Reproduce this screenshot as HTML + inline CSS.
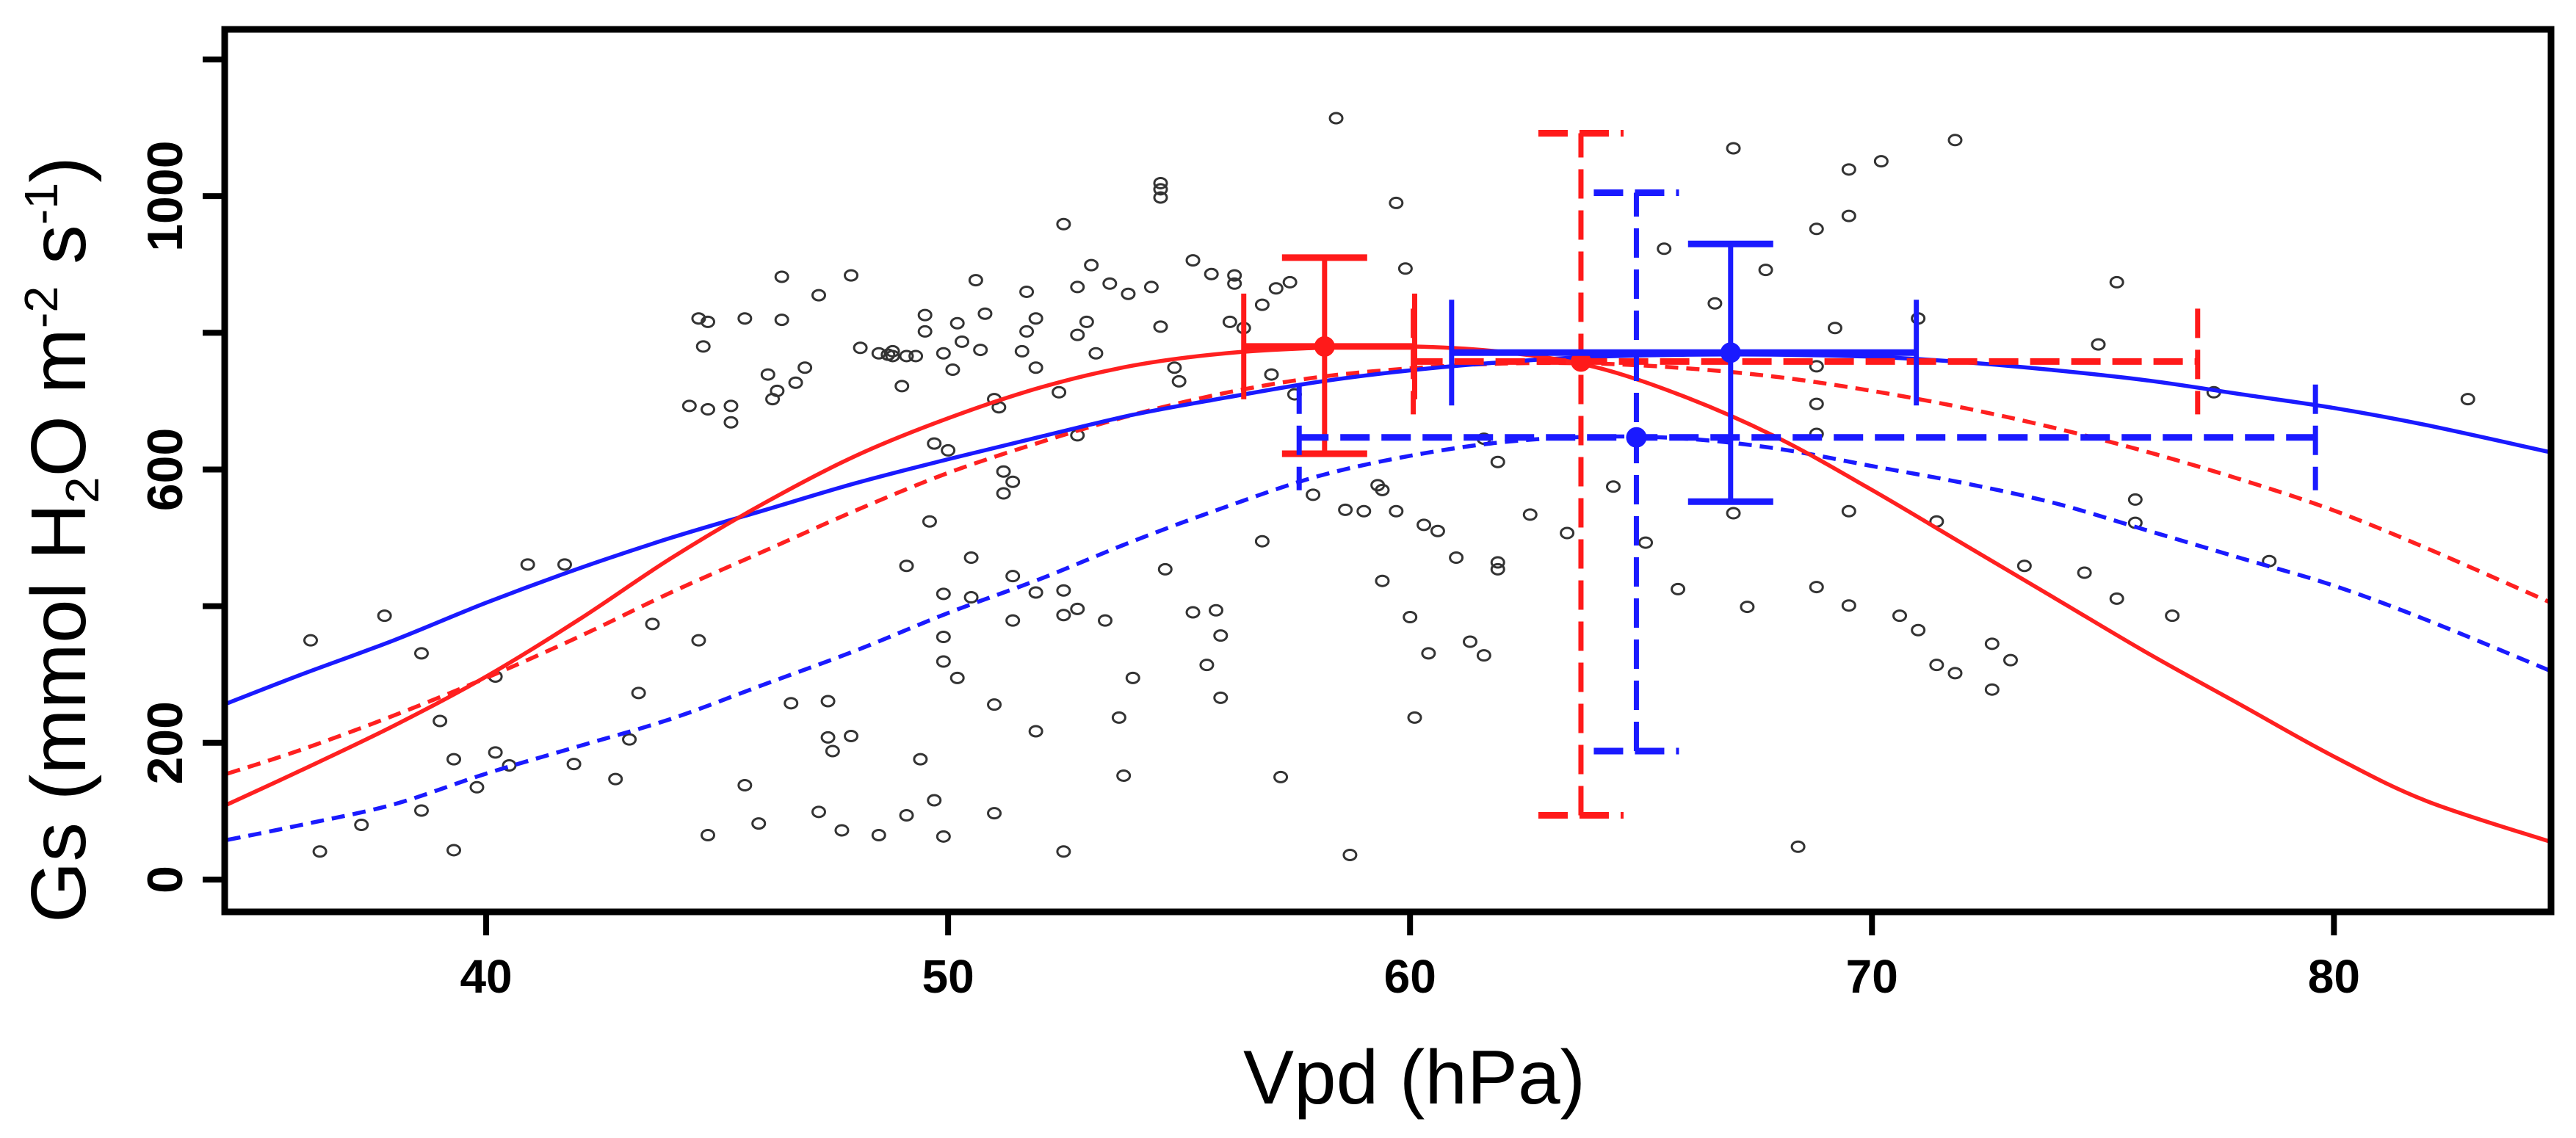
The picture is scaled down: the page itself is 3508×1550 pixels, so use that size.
<!DOCTYPE html>
<html><head><meta charset="utf-8"><style>
html,body{margin:0;padding:0;background:#fff;}
svg{display:block;}
</style></head><body>
<svg id="chart" width="3508" height="1550" viewBox="0 0 3508 1550" xmlns="http://www.w3.org/2000/svg">
<defs><clipPath id="plotclip"><rect x="306" y="40" width="3168" height="1202"/></clipPath></defs>
<g id="marks" clip-path="url(#plotclip)"></g>
<g id="axes"></g>
<text x="1926" y="1503" text-anchor="middle" font-family="Liberation Sans, sans-serif" font-size="104" textLength="466" lengthAdjust="spacingAndGlyphs">Vpd (hPa)</text>
<text transform="translate(116,735) rotate(-90)" text-anchor="middle" font-family="Liberation Sans, sans-serif" font-size="106" textLength="1044" lengthAdjust="spacingAndGlyphs">Gs (mmol H<tspan font-size="64" dy="18">2</tspan><tspan dy="-18">O m</tspan><tspan font-size="64" dy="-38">-2</tspan><tspan dy="38"> s</tspan><tspan font-size="64" dy="-38">-1</tspan><tspan dy="38">)</tspan></text>
</svg>
<script>
const xTicks = [40, 50, 60, 70, 80];
const yTicks = [0, 200, 400, 600, 800, 1000, 1200];
const yLabels = [0, 200, 600, 1000];
const curveX = [34.4,36,38,40,42,44,46,48,50,52,54,56,58,60,62,64,66,68,70,72,74,76,78,80,82,84.7];
const redSolid = [110,160,225,297,380,470,550,620,675,720,752,770,778,780,772,750,705,645,570,490,410,330,255,180,115,55];
const blueSolid = [258,300,350,405,455,500,540,580,615,648,680,705,728,745,757,765,768,768,765,757,745,730,710,690,665,625];
const redDashed = [155,190,240,295,355,420,480,540,595,640,680,712,735,748,755,755,748,735,715,690,660,625,585,540,485,405];
const blueDashed = [58,80,110,155,195,235,285,335,390,440,495,545,590,620,640,648,645,630,605,580,550,510,470,430,380,305];
// error bars: [meanX, meanY, xLow, xHigh, yLow, yHigh]
const errRedSolid = [58.15, 780, 56.4, 60.1, 623, 910];
const errRedDashed = [63.7, 758, 60.07, 77.05, 94, 1092];
const errBlueSolid = [66.94, 771, 60.9, 70.96, 553, 930];
const errBlueDashed = [64.9, 647, 57.6, 79.6, 188, 1005];
const ptX = [36.2,36.4,37.3,37.8,38.6,38.6,39.0,39.3,39.3,39.8,40.2,40.2,40.5,40.9,41.7,41.9,42.8,43.1,43.3,43.6,44.4,44.6,44.7,44.8,44.8,44.8,44.6,45.3,45.3,45.6,45.6,45.9,46.1,46.2,46.3,46.4,46.4,46.6,46.7,46.9,47.2,47.2,47.4,47.4,47.5,47.7,47.9,47.9,48.1,48.5,48.5,48.7,48.8,48.8,49.0,49.1,49.1,49.1,49.3,49.4,49.5,49.5,49.6,49.7,49.7,49.9,49.9,49.9,49.9,49.9,50.0,50.1,50.2,50.2,50.3,50.5,50.5,50.6,50.7,50.8,51.0,51.0,51.0,51.1,51.2,51.2,51.4,51.4,51.4,51.6,51.7,51.7,51.9,51.9,51.9,51.9,52.4,52.5,52.5,52.5,52.5,52.8,52.8,52.8,52.8,53.0,53.1,53.2,53.4,53.5,53.7,53.8,53.9,54.0,54.4,54.6,54.6,54.6,54.6,54.7,54.9,55.0,55.3,55.3,55.6,55.7,55.8,55.9,55.9,56.1,56.2,56.2,56.4,56.8,56.8,57.0,57.1,57.2,57.4,57.5,57.9,58.4,58.6,58.7,59.0,59.3,59.4,59.4,59.7,59.7,59.9,60.0,60.1,60.3,60.4,60.6,61.0,61.3,61.6,61.6,61.9,61.9,61.9,62.6,63.4,64.4,65.1,65.5,65.8,66.6,67.0,67.0,67.3,67.7,68.4,68.8,68.8,68.8,68.8,68.8,69.2,69.5,69.5,69.5,69.5,70.2,70.6,71.0,71.0,71.4,71.4,71.8,71.8,72.6,72.6,73.0,73.3,74.6,74.9,75.3,75.3,75.7,75.7,76.5,77.4,78.6,82.9];
const ptY = [350,41,80,386,331,101,232,176,43,135,297,186,167,461,461,169,147,205,273,374,693,821,780,816,65,688,350,693,669,821,138,82,739,703,715,882,819,258,727,749,855,99,261,208,188,72,884,210,778,770,65,768,766,773,722,766,459,94,766,176,802,826,524,638,116,770,418,319,355,63,628,746,295,814,787,471,413,877,775,828,703,256,97,691,597,565,582,444,379,773,860,802,420,821,749,217,713,959,387,423,41,867,797,650,396,816,899,770,379,872,237,152,857,295,867,809,1019,1010,998,454,749,729,906,391,314,886,394,357,266,816,872,884,807,841,495,739,865,150,874,710,563,1114,541,36,539,577,570,437,539,990,894,384,237,519,331,510,471,348,328,645,611,464,454,534,507,575,493,923,425,843,1070,536,399,892,48,751,696,652,428,952,807,1039,971,539,401,1051,386,365,821,314,524,1082,302,345,278,321,459,449,783,874,411,556,522,386,713,466,703];

const NS = 'http://www.w3.org/2000/svg';
const X0 = 306, X1 = 3474, Y0 = 1242, Y1 = 40;
const xMin = 34.34, xMax = 84.7, yMin = -47.3, yMax = 1244;
function sx(v){ return X0 + (v - xMin) / (xMax - xMin) * (X1 - X0); }
function sy(v){ return Y0 - (v - yMin) / (yMax - yMin) * (Y0 - Y1); }
function mk(tag, attrs, parent){ const e = document.createElementNS(NS, tag); for (const k in attrs) e.setAttribute(k, attrs[k]); parent.appendChild(e); return e; }
const marks = document.getElementById('marks');
const axes = document.getElementById('axes');

for (let i = 0; i < ptX.length; i++) {
  const c = mk('ellipse', {cx: sx(ptX[i]), cy: sy(ptY[i]), rx: 8.5, ry: 7, fill: 'none', stroke: '#333', 'stroke-width': 3}, marks);
  
  
}

function smoothPath(xs, ys){
  const p = xs.map((x, i) => [sx(x), sy(ys[i])]);
  let d = 'M' + p[0][0] + ',' + p[0][1];
  for (let i = 0; i < p.length - 1; i++) {
    const p0 = p[i-1] || p[i], p1 = p[i], p2 = p[i+1], p3 = p[i+2] || p[i+1];
    const c1 = [p1[0] + (p2[0]-p0[0])/6, p1[1] + (p2[1]-p0[1])/6];
    const c2 = [p2[0] - (p3[0]-p1[0])/6, p2[1] - (p3[1]-p1[1])/6];
    d += 'C' + c1[0] + ',' + c1[1] + ' ' + c2[0] + ',' + c2[1] + ' ' + p2[0] + ',' + p2[1];
  }
  return d;
}
function curve(ys, color, dashed, name){
  const a = {d: smoothPath(curveX, ys), fill: 'none', stroke: color, 'stroke-width': 5.5};
  if (dashed) a['stroke-dasharray'] = '18 11';
  const e = mk('path', a, marks);
  
  
}
curve(blueDashed, '#1a1aff', true, 'curve-blue-dashed');
curve(redDashed, '#ff2020', true, 'curve-red-dashed');
curve(blueSolid, '#1a1aff', false, 'curve-blue-solid');
curve(redSolid, '#ff2020', false, 'curve-red-solid');

function errbar(e, color, dashed, name){
  const g = mk('g', {}, marks);
  
  
  const da = dashed ? '40 16' : 'none';
  const cx = sx(e[0]), cy = sy(e[1]);
  const capH = 58, capV = 72;
  const st = {stroke: color, 'stroke-width': 7, 'stroke-dasharray': da, fill: 'none'};
  mk('line', Object.assign({x1: sx(e[2]), y1: cy, x2: sx(e[3]), y2: cy}, st, {'stroke-width': 9}), g);
  mk('line', Object.assign({x1: cx, y1: sy(e[4]), x2: cx, y2: sy(e[5])}, st), g);
  mk('line', Object.assign({x1: cx - capH, y1: sy(e[4]), x2: cx + capH, y2: sy(e[4])}, st, {'stroke-width': 9}), g);
  mk('line', Object.assign({x1: cx - capH, y1: sy(e[5]), x2: cx + capH, y2: sy(e[5])}, st, {'stroke-width': 9}), g);
  mk('line', Object.assign({x1: sx(e[2]), y1: cy - capV, x2: sx(e[2]), y2: cy + capV}, st), g);
  mk('line', Object.assign({x1: sx(e[3]), y1: cy - capV, x2: sx(e[3]), y2: cy + capV}, st), g);
  mk('circle', {cx: cx, cy: cy, r: 14, fill: color}, g);
}
errbar(errRedSolid, '#ff1a1a', false, 'errorbar-red-solid');
errbar(errRedDashed, '#ff1a1a', true, 'errorbar-red-dashed');
errbar(errBlueDashed, '#1a1aff', true, 'errorbar-blue-dashed');
errbar(errBlueSolid, '#1a1aff', false, 'errorbar-blue-solid');

const fr = mk('rect', {x: X0, y: Y1, width: X1 - X0, height: Y0 - Y1, fill: 'none', stroke: '#000', 'stroke-width': 9}, axes);


for (const t of xTicks) {
  const l = mk('line', {x1: sx(t), y1: Y0, x2: sx(t), y2: 1274, stroke: '#000', 'stroke-width': 8}, axes);
  
  
  const tx = mk('text', {x: sx(t), y: 1352, 'text-anchor': 'middle', 'font-family': 'Liberation Sans, sans-serif', 'font-weight': 'bold', 'font-size': 64}, axes);
  tx.textContent = t;
  
  
}
for (const t of yTicks) {
  const l = mk('line', {x1: 276, y1: sy(t), x2: X0, y2: sy(t), stroke: '#000', 'stroke-width': 8}, axes);
  
  
}
for (const t of yLabels) {
  const tx = mk('text', {transform: 'translate(248,' + sy(t) + ') rotate(-90)', 'text-anchor': 'middle', 'font-family': 'Liberation Sans, sans-serif', 'font-weight': 'bold', 'font-size': 68}, axes);
  tx.textContent = t;
  
  
}
</script>
</body></html>
